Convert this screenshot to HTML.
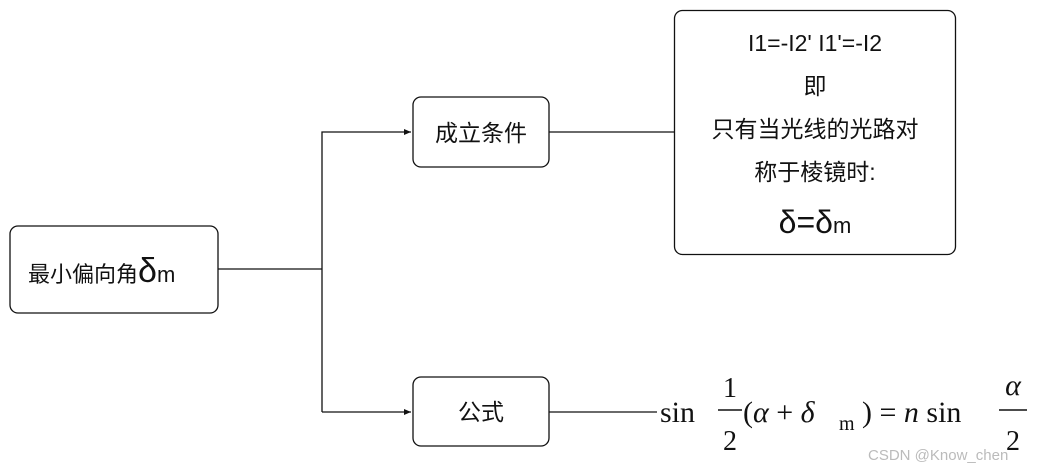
<!DOCTYPE html>
<html><head><meta charset="utf-8"><style>
html,body{margin:0;padding:0;background:#fff;}
svg{display:block;}
.t{font-family:"Liberation Sans","Noto Sans CJK SC",sans-serif;fill:#111;}
.m{font-family:"Liberation Serif","DejaVu Serif",serif;fill:#111;}
</style></head><body>
<svg width="1042" height="472" viewBox="0 0 1042 472" xmlns="http://www.w3.org/2000/svg">
<defs><marker id="a" markerWidth="8" markerHeight="8" refX="7" refY="4" orient="auto" markerUnits="userSpaceOnUse"><path d="M0,1 L7,4 L0,7 Z" fill="#111"/></marker></defs>
<g fill="none" stroke="#111" stroke-width="1.3">
<rect x="10" y="226" width="208" height="87" rx="8"/>
<rect x="413" y="97" width="136" height="70" rx="8"/>
<rect x="413" y="377" width="136" height="69" rx="8"/>
<rect x="674.5" y="10.5" width="281" height="244" rx="8"/>
<path d="M218,269 H322"/>
<path d="M322,412 V132 H411" marker-end="url(#a)"/>
<path d="M322,412 H411" marker-end="url(#a)"/>
<path d="M549,132 H674"/>
<path d="M549,412 H657"/>
</g>
<text class="t" x="28" y="282" font-size="22">最小偏向角<tspan font-size="34">δ</tspan><tspan font-size="22">m</tspan></text>
<text class="t" x="481" y="141" font-size="23" text-anchor="middle">成立条件</text>
<text class="t" x="481" y="420" font-size="23" text-anchor="middle">公式</text>
<g class="t" font-size="23" text-anchor="middle">
<text x="815" y="51">I1=-I2' I1'=-I2</text>
<text x="815" y="94">即</text>
<text x="815" y="137">只有当光线的光路对</text>
<text x="815" y="180">称于棱镜时:</text>
<text x="815" y="233" font-size="32">δ=δ<tspan font-size="22">m</tspan></text>
</g>
<g class="m">
<text x="660" y="422" font-size="30">sin</text>
<text x="730" y="397" font-size="28" text-anchor="middle">1</text>
<line x1="718" y1="410" x2="742" y2="410" stroke="#111" stroke-width="1.5"/>
<text x="730" y="450" font-size="28" text-anchor="middle">2</text>
<text x="743" y="422" font-size="30">(<tspan font-style="italic">α</tspan> + <tspan font-style="italic">δ</tspan></text>
<text x="839" y="430" font-size="20">m</text>
<text x="862" y="422" font-size="30">) = <tspan font-style="italic">n</tspan> sin</text>
<text x="1013" y="395" font-size="30" text-anchor="middle" font-style="italic">α</text>
<line x1="999" y1="410" x2="1027" y2="410" stroke="#111" stroke-width="1.5"/>
<text x="1013" y="450" font-size="28" text-anchor="middle">2</text>
</g>
<text x="868" y="460" font-family="Liberation Sans,sans-serif" font-size="15" fill="#bbb">CSDN @Know_chen</text>
</svg>
</body></html>
